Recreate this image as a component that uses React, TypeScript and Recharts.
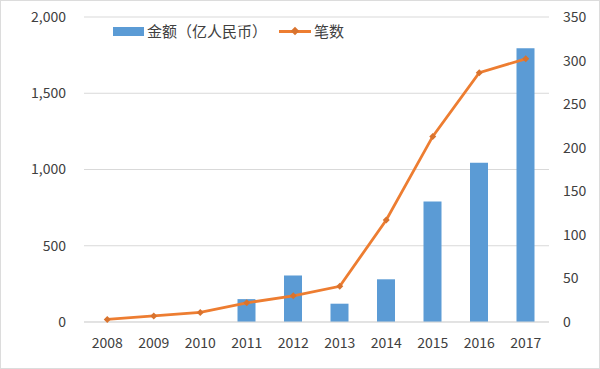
import {
  ComposedChart, Bar, Line, XAxis, YAxis, CartesianGrid,
} from "recharts";

const YEARS = ["2008", "2009", "2010", "2011", "2012", "2013", "2014", "2015", "2016", "2017"];
// 金额 (亿人民币), left axis
const AMOUNT = [0, 0, 0, 150, 305, 120, 280, 790, 1045, 1795];
// 笔数, right axis
const COUNT = [3, 7, 11, 22, 30, 41, 117, 213, 286, 302];

const LEFT_TICKS = [0, 500, 1000, 1500, 2000];
const RIGHT_TICKS = [0, 50, 100, 150, 200, 250, 300, 350];

const BLUE = "#5B9BD5";
const ORANGE = "#ED7D31";
const FONT = "'Noto Sans CJK SC', 'Noto Sans', sans-serif";

const rows = YEARS.map((y, i) => ({ year: y, amount: AMOUNT[i], count: COUNT[i] }));

const fmt = (v: number) => v.toLocaleString("en-US");

function Diamond(props: any) {
  const { cx, cy, index } = props;
  if (cx == null || cy == null) return null;
  const r = 3.5;
  return (
    <polygon
      key={index}
      points={`${cx},${cy - r} ${cx + r},${cy} ${cx},${cy + r} ${cx - r},${cy}`}
      fill="#D9732E"
    />
  );
}

function TopLegend() {
  return (
    <div style={{ position: "absolute", left: 112, top: 20, display: "flex", alignItems: "center", fontFamily: FONT, fontSize: 15, color: "#404040", lineHeight: "20px" }}>
      <span style={{ display: "inline-block", width: 31, height: 9, background: BLUE, marginRight: 3 }} />
      <span>金额（亿人民币）</span>
      <span style={{ display: "inline-block", width: 32, height: 3, background: ORANGE, marginLeft: 12, marginRight: 3, position: "relative" }}>
        <span style={{ position: "absolute", left: 13, top: -2, width: 6, height: 6, background: "#D9732E", transform: "rotate(45deg)" }} />
      </span>
      <span>笔数</span>
    </div>
  );
}

export default function App() {
  const tick = { fill: "#404040", fontSize: 14, fontFamily: FONT };
  return (
    <div style={{ position: "absolute", left: 0, top: 0, width: 598, height: 367, border: "1px solid #dcdcdc", background: "#fff" }}>
      <ComposedChart
        width={598}
        height={367}
        data={rows}
        margin={{ top: 16, right: 0, left: 0, bottom: 0 }}
      >
        <CartesianGrid vertical={false} stroke="#d9d9d9" yAxisId="left" />
        <XAxis
          dataKey="year"
          tick={tick}
          tickLine={false}
          axisLine={{ stroke: "#d9d9d9" }}
          height={46}
          tickMargin={10}
          interval={0}
        />
        <YAxis
          yAxisId="left"
          domain={[0, 2000]}
          ticks={LEFT_TICKS}
          tickFormatter={fmt}
          tick={tick}
          tickLine={false}
          axisLine={false}
          width={83}
          tickMargin={12}
        />
        <YAxis
          yAxisId="right"
          orientation="right"
          domain={[0, 350]}
          ticks={RIGHT_TICKS}
          tick={tick}
          tickLine={false}
          axisLine={false}
          width={50}
          tickMargin={8}
        />
        <Bar yAxisId="left" dataKey="amount" name="金额（亿人民币）" fill={BLUE} barSize={18} isAnimationActive={false} />
        <Line
          yAxisId="right"
          dataKey="count"
          name="笔数"
          stroke={ORANGE}
          strokeWidth={2.8}
          dot={<Diamond />}
          activeDot={false}
          isAnimationActive={false}
        />
      </ComposedChart>
      <TopLegend />
    </div>
  );
}
